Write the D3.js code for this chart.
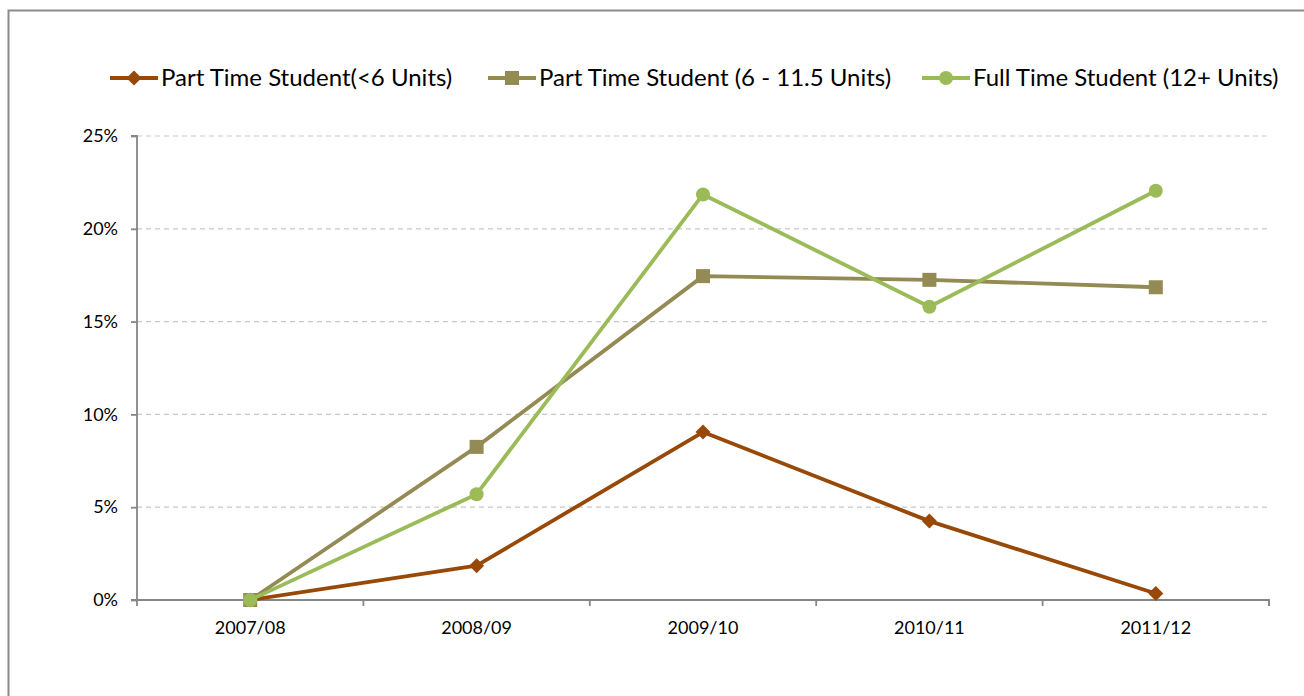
<!DOCTYPE html>
<html><head><meta charset="utf-8">
<script src="https://cdn.jsdelivr.net/npm/d3@7"></script>
<style>body{margin:0;background:#fff}svg{display:block}</style>
</head><body>
<svg id="c" width="1304" height="696"></svg>
<script>
const categories = ["2007/08","2008/09","2009/10","2010/11","2011/12"];
const seriesNames = ["Part Time Student(<6 Units)","Part Time Student (6 - 11.5 Units)","Full Time Student (12+ Units)"];
const partTimeLow = [0, 1.85, 9.05, 4.25, 0.35];
const partTimeMid = [0, 8.25, 17.45, 17.25, 16.85];
const fullTime = [0, 5.7, 21.85, 15.8, 22.05];
const yTicks = [0,5,10,15,20,25];

const colors = ["#984807","#948A54","#9BBB59"];
const markers = ["diamond","square","circle"];
const seriesData = [partTimeLow, partTimeMid, fullTime];

const svg = d3.select("#c");
const font = "Lato, 'Open Sans', sans-serif";

svg.append("rect").attr("x",8.5).attr("y",10.5).attr("width",1310).attr("height",700)
  .attr("fill","none").attr("stroke","#8c8c8c").attr("stroke-width",2);

const L=137, R=1269, T=136, B=600;
const x = d3.scaleBand().domain(categories).range([L,R]);
const y = d3.scaleLinear().domain([0,25]).range([B,T]);

// gridlines
svg.append("g").selectAll("line").data(yTicks.filter(d=>d>0)).join("line")
  .attr("x1",L).attr("x2",R).attr("y1",d=>y(d)).attr("y2",d=>y(d))
  .attr("stroke","#c8c8c8").attr("stroke-width",1.2).attr("stroke-dasharray","5,4");

// y axis
const ya = svg.append("g").attr("transform",`translate(${L},0)`)
  .call(d3.axisLeft(y).tickValues(yTicks).tickFormat(d=>d+"%").tickSize(6).tickPadding(13));
ya.select(".domain").attr("stroke","#868686").attr("stroke-width",1.8).attr("d",`M-6,${T}H0V${B}H-6`);
ya.selectAll(".tick line").attr("stroke","#868686").attr("stroke-width",1.8);
ya.selectAll("text").attr("font-family",font).attr("font-size",18).attr("fill","#000");

// x axis
const xa = svg.append("g").attr("transform",`translate(0,${B})`)
  .call(d3.axisBottom(x).tickSize(0).tickPadding(21));
xa.select(".domain").attr("stroke","#868686").attr("stroke-width",1.8).attr("d",`M${L},0H${R}V6`);
xa.selectAll("text").attr("font-family",font).attr("font-size",18).attr("fill","#000");
const bounds = categories.map(c=>x(c)).concat([R]);
xa.append("g").selectAll("line").data(bounds).join("line")
  .attr("x1",d=>d).attr("x2",d=>d).attr("y1",0).attr("y2",6)
  .attr("stroke","#868686").attr("stroke-width",1.8);

const cx = c => x(c)+x.bandwidth()/2;

function drawMarker(g, type, color, px, py){
  if(type==="diamond"){
    g.append("path").attr("d",`M${px},${py-7.5}L${px+7.5},${py}L${px},${py+7.5}L${px-7.5},${py}Z`).attr("fill",color);
  } else if(type==="square"){
    g.append("rect").attr("x",px-7).attr("y",py-7).attr("width",14).attr("height",14).attr("fill",color);
  } else {
    g.append("circle").attr("cx",px).attr("cy",py).attr("r",7).attr("fill",color);
  }
}

const line = d3.line().x((d,i)=>cx(categories[i])).y(d=>y(d));
seriesData.forEach((vals,s)=>{
  const g = svg.append("g");
  g.append("path").datum(vals).attr("d",line).attr("fill","none")
    .attr("stroke",colors[s]).attr("stroke-width",3.8).attr("stroke-linejoin","round");
  vals.forEach((v,i)=>drawMarker(g, markers[s], colors[s], cx(categories[i]), y(v)));
});

// legend
const legX = [110, 488, 922];
seriesNames.forEach((n,s)=>{
  const g = svg.append("g");
  const ly = 78;
  g.append("line").attr("x1",legX[s]).attr("x2",legX[s]+48).attr("y1",ly).attr("y2",ly)
    .attr("stroke",colors[s]).attr("stroke-width",3.8);
  drawMarker(g, markers[s], colors[s], legX[s]+24, ly);
  g.append("text").attr("x",legX[s]+51).attr("y",ly+8).text(n)
    .attr("font-family",font).attr("font-size",24).attr("fill","#000");
});
</script>
</body></html>
